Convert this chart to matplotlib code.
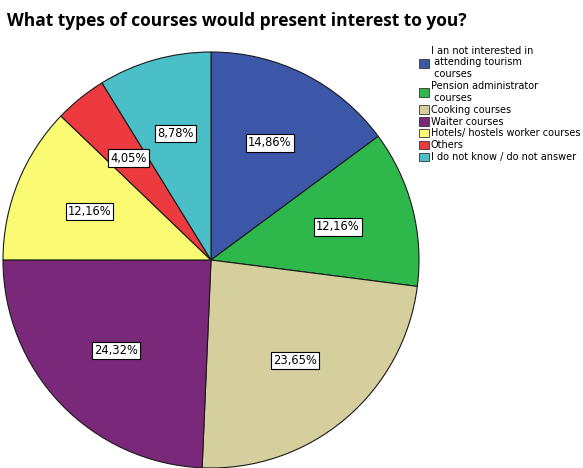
import matplotlib.pyplot as plt

# Survey answers (percent of respondents)
labels = [
    "I an not interested in\n attending tourism\n courses",
    "Pension administrator\n courses",
    "Cooking courses",
    "Waiter courses",
    "Hotels/ hostels worker courses",
    "Others",
    "I do not know / do not answer",
]
shares = [14.86, 12.16, 23.65, 24.32, 12.16, 4.05, 8.78]
colors = ["#3c56a8", "#2eb84c", "#d4cf9c", "#7a2879", "#fafa73", "#ec3a3e", "#4bbfc7"]

fig = plt.figure(figsize=(5.83, 4.68), dpi=100)
W, H = 583, 468
cx, cy, r = 211, 260, 208
ax = fig.add_axes([(cx - r) / W, (H - cy - r) / H, 2 * r / W, 2 * r / H])

wedges, texts, autotexts = ax.pie(
    shares, colors=colors, startangle=90, counterclock=False,
    autopct=lambda p: f"{p:.2f}%".replace(".", ","), pctdistance=0.63,
    wedgeprops=dict(edgecolor="#1a1a1a", linewidth=0.8),
    textprops=dict(fontsize=8.3, family="DejaVu Sans"),
)
for t in autotexts:
    t.set_bbox(dict(facecolor="white", edgecolor="black", linewidth=0.8, pad=1.5))
ax.set_xlim(-1, 1)
ax.set_ylim(-1, 1)
ax.set_aspect("equal")

fig.text(0.012, 0.945, "What types of courses would present interest to you?",
         fontsize=12.5, fontweight="bold", family="Open Sans")

leg = fig.legend(wedges, labels, loc="upper left", bbox_to_anchor=(415 / W, 1 - 42 / H),
                 frameon=False, fontsize=7.0, handlelength=1.0, handleheight=1.0,
                 handletextpad=0.2, labelspacing=0.2, borderaxespad=0)
for h in leg.legend_handles:
    h.set_edgecolor("#333333")
    h.set_linewidth(0.6)

fig.savefig("out.png", dpi=100)
